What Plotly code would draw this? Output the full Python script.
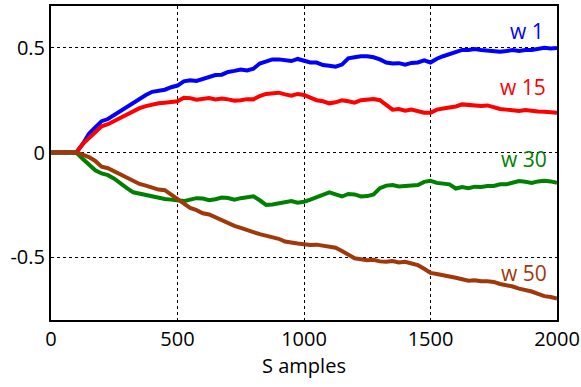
import plotly.graph_objects as go

samples = list(range(0, 2001, 25))

w1 = [0, 0, 0, 0, 0, 0.04, 0.09, 0.12, 0.15, 0.16, 0.18, 0.20, 0.215, 0.24, 0.255, 0.275,
      0.29, 0.295, 0.30, 0.312, 0.32, 0.34, 0.345, 0.342, 0.35, 0.362, 0.37, 0.372, 0.385,
      0.39, 0.397, 0.392, 0.40, 0.425, 0.435, 0.445, 0.445, 0.44, 0.437, 0.447, 0.44, 0.43,
      0.43, 0.418, 0.415, 0.41, 0.42, 0.45, 0.455, 0.46, 0.46, 0.455, 0.445, 0.43, 0.425,
      0.427, 0.42, 0.428, 0.43, 0.44, 0.43, 0.448, 0.46, 0.47, 0.48, 0.49, 0.49, 0.494, 0.49,
      0.488, 0.485, 0.482, 0.485, 0.49, 0.485, 0.49, 0.49, 0.495, 0.50, 0.497, 0.50]

w15 = [0, 0, 0, 0, 0, 0.04, 0.07, 0.10, 0.125, 0.135, 0.15, 0.168, 0.18, 0.20, 0.212, 0.222,
       0.23, 0.235, 0.238, 0.242, 0.245, 0.262, 0.26, 0.252, 0.255, 0.26, 0.254, 0.258, 0.254,
       0.248, 0.25, 0.255, 0.254, 0.27, 0.28, 0.285, 0.286, 0.278, 0.272, 0.28, 0.275, 0.262,
       0.25, 0.245, 0.235, 0.24, 0.25, 0.245, 0.238, 0.25, 0.255, 0.256, 0.25, 0.225, 0.205,
       0.208, 0.20, 0.205, 0.198, 0.19, 0.19, 0.205, 0.21, 0.215, 0.22, 0.23, 0.228, 0.225,
       0.222, 0.225, 0.215, 0.208, 0.205, 0.20, 0.198, 0.203, 0.198, 0.196, 0.195, 0.194, 0.19]

w30 = [0, 0, 0, 0, 0, -0.03, -0.06, -0.085, -0.10, -0.108, -0.125, -0.15, -0.17, -0.19,
       -0.197, -0.20, -0.21, -0.217, -0.222, -0.225, -0.23, -0.232, -0.225, -0.218, -0.22,
       -0.228, -0.223, -0.215, -0.217, -0.225, -0.218, -0.212, -0.209, -0.228, -0.25, -0.248,
       -0.243, -0.238, -0.232, -0.24, -0.235, -0.225, -0.215, -0.205, -0.19, -0.20, -0.21,
       -0.198, -0.20, -0.21, -0.208, -0.20, -0.17, -0.158, -0.155, -0.162, -0.16, -0.158,
       -0.155, -0.14, -0.135, -0.145, -0.15, -0.152, -0.172, -0.165, -0.17, -0.163, -0.165,
       -0.16, -0.16, -0.152, -0.152, -0.145, -0.136, -0.14, -0.145, -0.138, -0.135, -0.138,
       -0.145]

w50 = [0, 0, 0, 0, 0, -0.01, -0.022, -0.04, -0.068, -0.075, -0.09, -0.10, -0.12, -0.135,
       -0.15, -0.158, -0.17, -0.177, -0.18, -0.20, -0.22, -0.24, -0.265, -0.275, -0.29,
       -0.296, -0.31, -0.325, -0.34, -0.35, -0.36, -0.368, -0.38, -0.39, -0.398, -0.402,
       -0.412, -0.425, -0.432, -0.435, -0.438, -0.442, -0.44, -0.445, -0.45, -0.455, -0.47,
       -0.49, -0.505, -0.51, -0.515, -0.512, -0.52, -0.522, -0.518, -0.525, -0.522, -0.53,
       -0.538, -0.555, -0.575, -0.58, -0.588, -0.592, -0.598, -0.605, -0.612, -0.61, -0.615,
       -0.615, -0.618, -0.628, -0.632, -0.64, -0.65, -0.655, -0.664, -0.675, -0.686, -0.69,
       -0.698]

series = [("w 1", w1, "#0000FF", 0.579, 1955),
          ("w 15", w15, "#FF0000", 0.311, 1965),
          ("w 30", w30, "#008000", -0.033, 1968),
          ("w 50", w50, "#A0380A", -0.574, 1968)]

x_ticks = [0, 500, 1000, 1500, 2000]
y_ticks = [-0.5, 0, 0.5]
y_tick_labels = ["-0.5", "0", "0.5"]

FONT = "Open Sans, Noto Sans, sans-serif"
FS = 20

fig = go.Figure()
for name, vals, color, ly, lx in series:
    fig.add_trace(go.Scatter(x=samples[:len(vals)], y=vals, mode="lines", name=name,
                             line=dict(color=color, width=4), showlegend=False))
    fig.add_annotation(x=lx, y=ly, text=name, showarrow=False, xanchor="right",
                       yanchor="middle", font=dict(color=color, size=21, family=FONT))

axis_common = dict(showline=True, linecolor="black", linewidth=2, mirror=True,
                   showgrid=True, gridcolor="black", gridwidth=1, griddash="dot",
                   zeroline=False, ticks="", automargin=False,
                   tickfont=dict(size=FS, color="black", family=FONT))

fig.update_xaxes(range=[0, 2000], tickvals=x_ticks, title=dict(text="S amples", standoff=2,
                 font=dict(size=FS, color="black", family=FONT)), **axis_common)
fig.update_yaxes(range=[-0.8, 0.7], tickvals=y_ticks, ticktext=y_tick_labels, **axis_common)

fig.update_layout(width=581, height=387, margin=dict(l=51, r=24, t=6, b=67),
                  paper_bgcolor="white", plot_bgcolor="white")

fig.write_html("out.html", config={"displayModeBar": False},
               post_script="document.body.style.margin='0';")
